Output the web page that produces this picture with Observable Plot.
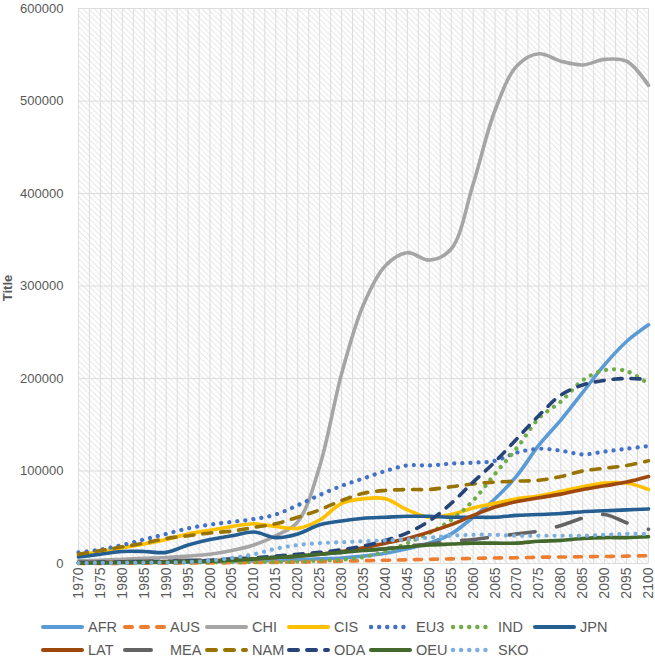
<!DOCTYPE html>
<html><head><meta charset="utf-8">
<script src="https://cdn.jsdelivr.net/npm/d3@7"></script>
<script src="https://cdn.jsdelivr.net/npm/@observablehq/plot@0.6"></script>
<style>
html,body{margin:0;padding:0;overflow:hidden;background:#fff;font-family:"Liberation Sans",Arial,sans-serif;}
#chart svg{display:block;}
#legend{position:relative;width:655px;height:45px;}
.item{position:absolute;height:14px;line-height:14px;display:flex;align-items:center;font-size:14.5px;color:#595959;white-space:pre;}
.item svg{margin-right:4px;display:block;}
</style></head><body><div id="chart"></div><div id="legend"></div>
<script>
const years = [1970,1975,1980,1985,1990,1995,2000,2005,2010,2015,2020,2025,2030,2035,2040,2045,2050,2055,2060,2065,2070,2075,2080,2085,2090,2095,2100];
const AFR = [500,700,900,1100,1300,1500,1800,2200,2700,3200,4000,5000,6000,8000,11000,16000,22000,32000,50000,70000,95000,128000,155000,185000,215000,240000,258000];
const AUS = [0,100,200,300,400,500,600,800,1000,1200,1500,2000,2500,3000,3500,4000,4500,5000,5500,6000,6200,6800,7000,7300,7600,8000,8500];
const CHI = [3000,3500,4500,5500,6500,8000,10000,14000,20000,30000,45000,105000,205000,280000,322000,336000,328000,340000,410000,490000,538000,551000,543000,539000,545000,543000,517000];
const CIS = [9000,13000,17000,21000,26000,32000,36000,40000,43000,40000,38000,47000,65000,70000,70000,58000,50000,53000,60000,65000,70000,73000,78000,83000,87000,87000,80000];
const EU3 = [12000,15000,20000,26000,32000,38000,42000,45000,48000,53000,63000,74000,84000,92000,100000,106000,106000,108000,109000,111000,120000,124000,122000,118000,121000,124000,127000];
const IND = [500,600,700,800,900,1000,1200,1400,1600,1800,2000,3000,4000,7000,13000,22000,33000,47000,68000,97000,125000,157000,175000,198000,209000,208000,194000];
const JPN = [7000,10000,13000,13000,12000,20000,26000,30000,34000,28000,32000,42000,46000,49000,50000,51000,51000,50000,50000,50000,52000,53000,54000,56000,57000,58000,59000];
const LAT = [1000,1200,1500,1800,2000,2500,3000,4000,5000,6500,8000,10000,13000,17000,22000,27000,34000,42000,52000,61000,67000,71000,75000,80000,84000,88000,94000];
const MEA = [1000,1500,2000,2500,3000,3500,4000,5000,6000,7000,8000,10000,12000,14000,16000,19000,21000,24000,26000,29000,32000,35000,41000,49000,53000,44000,37000];
const NAM = [10000,14000,18000,22000,27000,30000,33000,35000,39000,43000,50000,58000,68000,76000,79000,80000,80000,83000,86000,88000,89000,90000,94000,100000,103000,106000,111000];
const ODA = [1000,1200,1500,1800,2200,2800,3500,4500,6000,8000,10000,12000,15000,19000,25000,33000,46000,65000,88000,110000,135000,160000,182000,193000,198000,200000,199000];
const OEU = [500,700,1000,1200,1500,2000,2500,3500,5000,6500,8000,10000,12000,14000,16000,18000,20000,21000,22000,22000,22000,24000,25000,27000,28000,28000,29000];
const SKO = [500,600,700,800,1000,1500,3000,6000,10000,16000,20000,22000,23000,24000,25000,26000,28000,30000,31000,31000,30000,30000,30000,30000,31000,32000,32000];

const seriesNames = ["AFR","AUS","CHI","CIS","EU3","IND","JPN","LAT","MEA","NAM","ODA","OEU","SKO"];
const seriesValues = [AFR,AUS,CHI,CIS,EU3,IND,JPN,LAT,MEA,NAM,ODA,OEU,SKO];
const seriesColors = ["#5B9BD5","#ED7D31","#A5A5A5","#FFC000","#4472C4","#70AD47","#255E91","#9E480E","#636363","#997300","#264478","#43682B","#7CAFDD"];
const seriesDash = ["none","7,9","none","none","0.1,8","0.1,8","none","none","26,22","9,9","9,9","none","0.1,8"];
const yTicks = [0,100000,200000,300000,400000,500000,600000];
const xTicks = [1970,1975,1980,1985,1990,1995,2000,2005,2010,2015,2020,2025,2030,2035,2040,2045,2050,2055,2060,2065,2070,2075,2080,2085,2090,2095,2100];
const gridYears = d3.range(1970, 2100.01, 2.5);

const table = [];
seriesNames.forEach((name, i) => seriesValues[i].forEach((v, j) => table.push({series: name, year: years[j], value: v})));

const lineMarks = seriesNames.map((name, i) => Plot.line(table.filter(d => d.series === name), {
  x: "year", y: "value", stroke: seriesColors[i], strokeWidth: seriesDash[i].startsWith("0.1") ? 4.2 : 3.6,
  strokeDasharray: seriesDash[i] === "none" ? undefined : seriesDash[i],
  strokeLinecap: "round", strokeLinejoin: "round", curve: "catmull-rom"
}));

const svg = Plot.plot({
  width: 655, height: 612,
  marginTop: 8, marginBottom: 49, marginLeft: 78, marginRight: 7,
  style: {fontFamily: '"Liberation Sans", Arial, sans-serif', background: "#fff"},
  x: {domain: [1970, 2100], axis: null},
  y: {domain: [0, 600000], axis: null},
  marks: [
    Plot.frame({fill: "url(#hatch)", stroke: "none"}),
    Plot.gridX(gridYears, {stroke: "#dcdcdc", strokeOpacity: 1, strokeWidth: 1}),
    Plot.gridY(yTicks, {stroke: "#dcdcdc", strokeOpacity: 1, strokeWidth: 1}),
    Plot.axisY(yTicks, {tickSize: 0, tickPadding: 15, tickFormat: d => String(d), fontSize: 13, fill: "#595959", label: null}),
    Plot.axisX(xTicks, {tickSize: 0, tickPadding: 4, tickRotate: -90, tickFormat: d => String(d), fontSize: 14, fill: "#595959", label: null}),
    ...lineMarks
  ]
});

const s = d3.select(svg);
const defs = s.insert("defs", ":first-child");
const pat = defs.append("pattern").attr("id", "hatch").attr("width", 4).attr("height", 4)
  .attr("patternUnits", "userSpaceOnUse").attr("patternTransform", "rotate(-45)");
pat.append("rect").attr("width", 4).attr("height", 4).attr("fill", "#ffffff");
pat.append("line").attr("x1", 0).attr("y1", 0).attr("x2", 0).attr("y2", 4).attr("stroke", "#e2e2e2").attr("stroke-width", 1.6);
s.append("text").attr("transform", "translate(12,288) rotate(-90)").attr("text-anchor", "middle")
  .attr("font-size", 13).attr("font-weight", "bold").attr("fill", "#595959").text("Title");
document.getElementById("chart").appendChild(svg);

const legend = document.getElementById("legend");
seriesNames.forEach((name, i) => {
  const row = i < 7 ? 0 : 1, col = i < 7 ? i : i - 7;
  const div = document.createElement("div");
  div.className = "item";
  div.style.left = (40 + col * 82) + "px";
  div.style.top = (8 + row * 23) + "px";
  const dash = seriesDash[i] === "none" ? "" : `stroke-dasharray="${seriesDash[i]}"`;
  const sw = seriesDash[i].startsWith("0.1") ? 4.4 : 4;
  div.innerHTML = `<svg width="44" height="10"><line x1="3" y1="5" x2="${name === "MEA" ? 32 : 42}" y2="5" stroke="${seriesColors[i]}" stroke-width="${sw}" stroke-linecap="round" ${dash}/></svg><span>${name}</span>`;
  legend.appendChild(div);
});
</script></body></html>
